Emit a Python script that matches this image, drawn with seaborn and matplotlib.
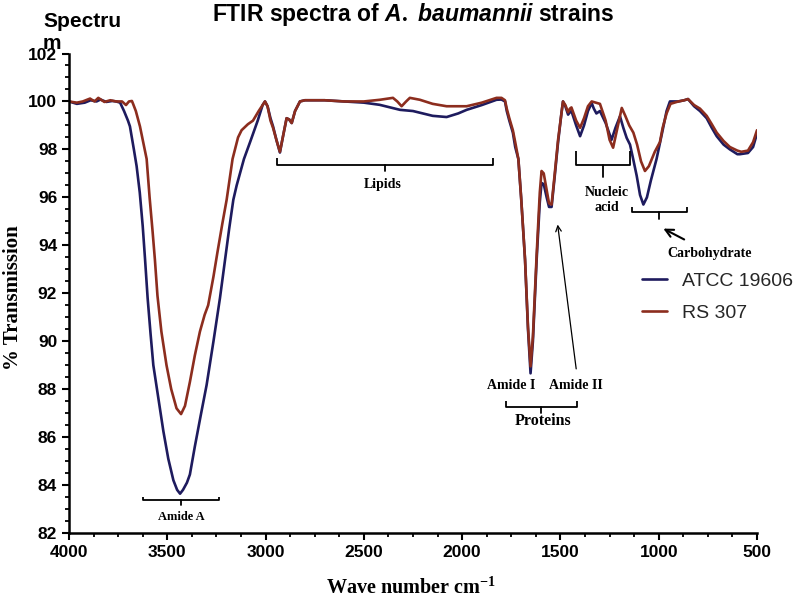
import matplotlib
matplotlib.use("Agg")
import matplotlib.pyplot as plt
from matplotlib.ticker import MultipleLocator
import numpy as np
import pandas as pd
import seaborn as sns

# ---------------- data ----------------
series_names = ["ATCC 19606", "RS 307"]
series_colors = ["#1e1b5e", "#8c2d1e"]

wave_atcc = [4000, 3960, 3920, 3890, 3860, 3840, 3810, 3780, 3760, 3740, 3720, 3700,
             3690, 3670, 3656, 3640, 3625, 3613, 3600, 3585, 3571, 3545, 3520, 3495,
             3469, 3450, 3435, 3420, 3400, 3385, 3360, 3330, 3300, 3265, 3232, 3206,
             3185, 3164, 3147, 3110, 3079, 3040, 3015, 3003, 2990, 2975, 2962, 2945,
             2927, 2910, 2893, 2880, 2867, 2850, 2825, 2800, 2700, 2600, 2500, 2420,
             2316, 2250, 2150, 2079, 2020, 1977, 1900, 1825, 1800, 1782, 1773, 1760,
             1742, 1730, 1714, 1700, 1680, 1665, 1652, 1640, 1621, 1605, 1596, 1585,
             1570, 1558, 1545, 1530, 1512, 1495, 1487, 1475, 1461, 1452, 1444, 1420,
             1400, 1380, 1360, 1341, 1330, 1317, 1299, 1270, 1240, 1220, 1197, 1180,
             1163, 1146, 1130, 1112, 1095, 1078, 1060, 1040, 1011, 980, 960, 943,
             900, 870, 851, 820, 790, 756, 730, 705, 670, 638, 600, 587, 546, 520, 502]
trans_atcc = [100.0, 99.9, 99.95, 100.05, 100.0, 100.08, 99.98, 100.02, 100.0, 99.95, 99.6, 99.2,
              98.96, 98.0, 97.3, 96.2, 94.8, 93.4, 91.8, 90.3, 89.0, 87.6, 86.25, 85.1,
              84.2, 83.8, 83.64, 83.8, 84.1, 84.44, 85.6, 86.9, 88.17, 90.0, 91.8, 93.4,
              94.7, 95.9, 96.5, 97.6, 98.3, 99.2, 99.85, 100.0, 99.8, 99.3, 98.96, 98.4,
              97.87, 98.6, 99.3, 99.25, 99.1, 99.6, 100.0, 100.05, 100.05, 100.0, 99.95, 99.86,
              99.65, 99.6, 99.4, 99.35, 99.5, 99.65, 99.85, 100.07, 100.08, 100.0, 99.6, 99.2,
              98.7, 98.1, 97.6, 96.0, 93.4, 90.5, 88.66, 90.0, 93.4, 95.8, 96.6, 96.55,
              96.0, 95.6, 95.6, 96.8, 98.3, 99.5, 100.0, 99.8, 99.45, 99.55, 99.6, 99.0,
              98.55, 99.0, 99.6, 99.93, 99.7, 99.5, 99.6, 99.1, 98.4, 98.9, 99.38, 98.9,
              98.48, 98.2, 97.6, 96.9, 96.1, 95.7, 96.0, 96.7, 97.6, 98.8, 99.6, 100.0,
              100.0, 100.05, 100.1, 99.8, 99.6, 99.3, 98.9, 98.55, 98.2, 98.0, 97.8, 97.8, 97.85, 98.1, 98.6]

wave_rs = [4000, 3960, 3930, 3893, 3870, 3851, 3820, 3790, 3760, 3730, 3710, 3695,
           3680, 3674, 3660, 3639, 3620, 3605, 3590, 3575, 3563, 3550, 3530, 3504,
           3480, 3453, 3430, 3410, 3385, 3360, 3334, 3310, 3292, 3265, 3245, 3220,
           3198, 3168, 3140, 3122, 3090, 3064, 3035, 3003, 2990, 2975, 2962, 2945,
           2927, 2910, 2893, 2880, 2867, 2850, 2825, 2800, 2700, 2600, 2500, 2418,
           2352, 2330, 2308, 2285, 2266, 2215, 2150, 2079, 2046, 1977, 1900, 1825,
           1800, 1782, 1773, 1760, 1742, 1730, 1714, 1700, 1680, 1665, 1652, 1640,
           1621, 1605, 1596, 1585, 1570, 1558, 1545, 1530, 1512, 1495, 1487, 1475,
           1461, 1452, 1444, 1420, 1400, 1380, 1360, 1341, 1320, 1299, 1270, 1250,
           1232, 1210, 1188, 1170, 1150, 1129, 1110, 1090, 1070, 1050, 1020, 994,
           980, 960, 940, 900, 870, 851, 820, 790, 756, 730, 705, 670, 638, 600,
           580, 546, 520, 500]
trans_rs = [100.0, 99.95, 100.0, 100.12, 100.0, 100.15, 99.98, 100.05, 100.0, 100.0, 99.85, 100.0,
            100.02, 99.9, 99.6, 98.96, 98.2, 97.6, 96.0, 94.6, 93.4, 91.9, 90.4, 89.0,
            88.0, 87.2, 86.96, 87.3, 88.3, 89.4, 90.4, 91.1, 91.5, 92.7, 93.7, 94.9,
            95.9, 97.6, 98.5, 98.8, 99.05, 99.2, 99.6, 100.0, 99.8, 99.2, 98.9, 98.4,
            97.9, 98.6, 99.3, 99.25, 99.1, 99.6, 100.0, 100.05, 100.05, 100.0, 100.0, 100.07,
            100.15, 100.0, 99.8, 100.0, 100.15, 100.07, 99.9, 99.8, 99.8, 99.8, 99.95, 100.15,
            100.15, 100.05, 99.7, 99.3, 98.8, 98.3, 97.6, 96.0, 93.4, 90.6, 88.95, 90.2,
            93.6, 96.2, 97.1, 97.0, 96.3, 95.75, 95.7, 96.9, 98.4, 99.5, 100.0, 99.85,
            99.55, 99.7, 99.75, 99.2, 98.9, 99.3, 99.8, 100.0, 99.95, 99.9, 99.2, 98.4,
            98.07, 98.9, 99.73, 99.4, 99.0, 98.7, 98.2, 97.5, 97.1, 97.3, 97.9, 98.3,
            98.9, 99.5, 99.9, 100.0, 100.05, 100.1, 99.85, 99.7, 99.4, 99.05, 98.7, 98.35, 98.1, 97.95,
            97.9, 97.95, 98.3, 98.8]

x_ticks = [4000, 3500, 3000, 2500, 2000, 1500, 1000, 500]
y_ticks = [82, 84, 86, 88, 90, 92, 94, 96, 98, 100, 102]

# ---------------- style ----------------
sns.set_theme(style="ticks")
plt.rcParams["font.family"] = ["Liberation Sans", "DejaVu Sans"]
plt.rcParams["mathtext.fontset"] = "custom"
plt.rcParams["mathtext.it"] = "Liberation Sans:style=italic:weight=bold"
plt.rcParams["mathtext.rm"] = "Liberation Serif:weight=bold"
plt.rcParams["mathtext.default"] = "regular"

df = pd.concat([
    pd.DataFrame({"wave": wave_atcc, "trans": trans_atcc, "strain": series_names[0]}),
    pd.DataFrame({"wave": wave_rs, "trans": trans_rs, "strain": series_names[1]}),
], ignore_index=True)

fig = plt.figure(figsize=(8, 6), dpi=100)
L, R, T, B = 69, 757, 53.5, 533
ax = fig.add_axes([L / 800, 1 - B / 600, (R - L) / 800, (B - T) / 600])

sns.lineplot(data=df, x="wave", y="trans", hue="strain",
             palette=dict(zip(series_names, series_colors)),
             hue_order=series_names, estimator=None, sort=False,
             linewidth=1.9, ax=ax)

ax.set_xlim(4000, 500)
ax.set_ylim(82, 102)
ax.set_xticks(x_ticks)
ax.set_yticks(y_ticks)
ax.xaxis.set_minor_locator(MultipleLocator(125))
ax.yaxis.set_minor_locator(MultipleLocator(0.5))
sns.despine(ax=ax)
for s in ["left", "bottom"]:
    ax.spines[s].set_linewidth(1.8)
    ax.spines[s].set_color("black")
ax.tick_params(which="major", length=5, width=1.5, color="black", labelsize=12.5, pad=3.5)
ax.tick_params(which="minor", length=3, width=1.3, color="black")
for lab in ax.get_xticklabels() + ax.get_yticklabels():
    lab.set_fontweight("bold")
    lab.set_color("black")

ax.set_xlabel("Wave number cm$^{-1}$", fontfamily="Liberation Serif",
              fontweight="bold", fontsize=14.5, color="black", va="center")
ax.xaxis.set_label_coords(0.497, -0.115)
ax.set_ylabel("% Transmission", fontfamily="Liberation Serif",
              fontweight="bold", fontsize=15, color="black", va="center", ha="center")
ax.yaxis.set_label_coords(-0.081, 0.49)

# title (with italic species name) and the stray "Spectru/m" label
fig.text(413 / 800, 1 - 15 / 600, r"FTIR spectra of $\mathit{A.}$ $\mathit{baumannii}$ strains",
         ha="center", va="center", fontsize=16.5, fontweight="bold", color="black")
fig.text(43 / 800, 1 - 12 / 600, "Spectru\nm", ha="left", va="top",
         fontsize=15, fontweight="bold", color="black", linespacing=1.2)

# legend
handles, labels = ax.get_legend_handles_labels()
ax.legend(handles, labels, loc="upper left", bbox_to_anchor=(642 / 800, 1 - 272 / 600),
          bbox_transform=fig.transFigure, frameon=False, fontsize=14,
          handlelength=1.3, handletextpad=0.75, labelspacing=0.75,
          borderpad=0, borderaxespad=0)

# ---------------- annotations ----------------
serif = dict(fontfamily="Liberation Serif", fontweight="bold", color="black",
             ha="center", va="center")


def bracket(x0, x1, ytop, yline, ydown, lw=1.3):
    xc = (x0 + x1) / 2
    ax.plot([x0, x0, x1, x1], [ytop, yline, yline, ytop], color="black", lw=lw,
            clip_on=False, solid_capstyle="butt")
    ax.plot([xc, xc], [yline, ydown], color="black", lw=lw, clip_on=False)


bracket(3624, 3237, 83.50, 83.36, 83.18)
ax.text(3430, 82.68, "Amide A", fontsize=9, **serif)

bracket(2942, 1845, 97.66, 97.33, 97.08)
ax.text(2403, 96.54, "Lipids", fontsize=10, **serif)

bracket(1421, 1146, 97.93, 97.37, 96.83)
ax.text(1265, 96.22, "Nucleic", fontsize=10, **serif)
ax.text(1265, 95.59, "acid", fontsize=10, **serif)

bracket(1138, 855, 95.59, 95.37, 95.09)
ax.annotate("", xy=(989, 94.75), xytext=(858, 94.19),
            arrowprops=dict(arrowstyle="->", lw=1.5, color="black", mutation_scale=14))
ax.text(740, 93.64, "Carbohydrate", fontsize=10, **serif)

ax.annotate("", xy=(1516, 94.98), xytext=(1418, 88.73),
            arrowprops=dict(arrowstyle="->", lw=0.9, color="black", mutation_scale=10))
ax.text(1752, 88.16, "Amide I", fontsize=10, **serif)
ax.text(1421, 88.16, "Amide II", fontsize=10, **serif)

bracket(1777, 1418, 87.51, 87.24, 87.0)
ax.text(1588, 86.66, "Proteins", fontsize=11.5, **serif)

fig.savefig("out.png", dpi=100)
